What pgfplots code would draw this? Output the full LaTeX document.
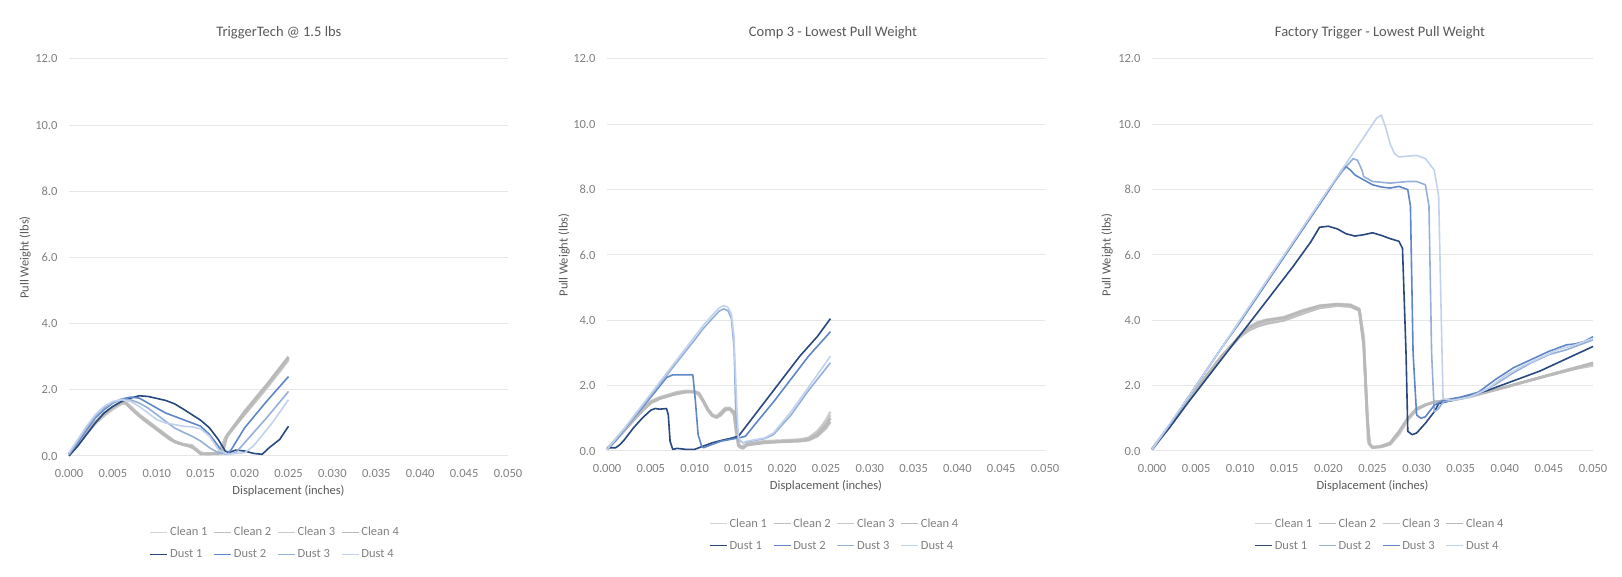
\documentclass[border=0pt]{standalone}
\usepackage{pgfplots}
\pgfplotsset{compat=1.18}
\usepackage{fontspec}
\setmainfont{Carlito}

\definecolor{titlegray}{HTML}{595959}
\definecolor{tickgray}{HTML}{808080}
\definecolor{gridgray}{HTML}{E6E6E6}
\definecolor{cleanA}{HTML}{D3D3D3}
\definecolor{cleanB}{HTML}{BFBFBF}
\definecolor{cleanC}{HTML}{C9C9C9}
\definecolor{cleanD}{HTML}{B9B9B9}
\definecolor{dustA}{HTML}{2A4880}
\definecolor{dustB}{HTML}{5F86C6}
\definecolor{dustC}{HTML}{95AFDB}
\definecolor{dustD}{HTML}{C2D2EC}

\pgfplotsset{
  trig/.style={
    scale only axis,
    xmin=0, xmax=0.05, ymin=0, ymax=12,
    xtick={0,0.005,0.01,0.015,0.02,0.025,0.03,0.035,0.04,0.045,0.05},
    ytick={0,2,4,6,8,10,12},
    scaled x ticks=false,
    /pgf/number format/assume math mode=true,
    xticklabel style={/pgf/number format/fixed, /pgf/number format/fixed zerofill, /pgf/number format/precision=3},
    yticklabel style={/pgf/number format/fixed, /pgf/number format/fixed zerofill, /pgf/number format/precision=1},
    ticklabel style={font=\fontsize{12.5}{14}\selectfont, text=tickgray},
    xticklabel style={/tikz/anchor=center, /tikz/yshift=-17pt},
    yticklabel style={/tikz/anchor=east, /tikz/xshift=-8pt},
    axis line style={draw=none},
    tick style={draw=none},
    ymajorgrids,
    major grid style={draw=gridgray, line width=1pt},
    clip=false,
    xlabel={Displacement (inches)},
    ylabel={Pull Weight (lbs)},
    label style={font=\fontsize{12.5}{14}\selectfont, text=titlegray},
    title style={font=\fontsize{14.5}{16}\selectfont, text=titlegray, anchor=center},
    legend columns=4,
    legend style={draw=none, fill=none, anchor=center,
      font=\fontsize{12.5}{14}\selectfont, text=tickgray,
      /tikz/every even column/.append style={column sep=4pt},
      /tikz/row sep=8.5pt},
    legend cell align=left,
    legend image code/.code={\draw[#1, line width=1.3pt] (0pt,0pt) -- (17pt,0pt);},
    every axis plot/.append style={line join=round},
  },
  cl/.style={color=#1, line width=2.6pt},
  du/.style={color=#1, line width=1.6pt},
}

\begin{document}
\begin{tikzpicture}
\useasboundingbox (0,0) rectangle (1622pt,577pt);

% ---------------- TriggerTech @ 1.5 lbs
\begin{axis}[trig,
  at={(69pt,121pt)}, anchor=south west, width=439pt, height=397pt,
  title={TriggerTech @ 1.5 lbs},
  title style={at={(axis description cs:0.478,1.05)}},
  xlabel style={at={(axis description cs:0.5,-0.089)}, anchor=center},
  ylabel style={at={(axis description cs:-0.1,0.5)}, anchor=center},
  legend style={at={(axis description cs:0.47,-0.220)}},
]
\addplot[cl=cleanA] coordinates {(0,0.05)(0.001,0.35)(0.002,0.7)(0.003,1.0)(0.004,1.25)(0.005,1.45)(0.006,1.6)(0.0065,1.6)(0.007,1.45)(0.008,1.2)(0.009,1.0)(0.010,0.8)(0.011,0.6)(0.012,0.42)(0.013,0.35)(0.014,0.3)(0.0148,0.12)(0.0155,0.05)(0.016,0.08)(0.017,0.05)(0.0178,0.5)(0.019,0.95)(0.020,1.3)(0.0215,1.8)(0.023,2.3)(0.025,2.95)};
\addplot[cl=cleanB] coordinates {(0,0.05)(0.001,0.38)(0.002,0.72)(0.003,1.03)(0.004,1.28)(0.005,1.48)(0.006,1.64)(0.0066,1.6)(0.0075,1.35)(0.0085,1.1)(0.0095,0.9)(0.0105,0.7)(0.0115,0.5)(0.0125,0.38)(0.0135,0.32)(0.0145,0.2)(0.015,0.08)(0.016,0.06)(0.0172,0.1)(0.0178,0.55)(0.020,1.35)(0.0225,2.15)(0.025,3.0)};
\addplot[cl=cleanC] coordinates {(0,0.05)(0.001,0.33)(0.002,0.68)(0.003,0.98)(0.004,1.22)(0.005,1.42)(0.006,1.58)(0.0064,1.62)(0.007,1.5)(0.008,1.25)(0.009,1.05)(0.010,0.85)(0.011,0.65)(0.012,0.45)(0.013,0.36)(0.014,0.32)(0.015,0.1)(0.016,0.05)(0.017,0.1)(0.018,0.6)(0.020,1.25)(0.0225,2.05)(0.025,2.9)};
\addplot[cl=cleanD] coordinates {(0,0.05)(0.001,0.36)(0.002,0.71)(0.003,1.02)(0.004,1.27)(0.005,1.47)(0.006,1.63)(0.0065,1.58)(0.0072,1.4)(0.008,1.22)(0.009,1.02)(0.010,0.82)(0.011,0.62)(0.012,0.44)(0.013,0.34)(0.014,0.28)(0.015,0.06)(0.016,0.07)(0.0175,0.08)(0.018,0.62)(0.020,1.3)(0.0225,2.12)(0.025,2.97)};
\addplot[du=dustA] coordinates {(0,0)(0.001,0.3)(0.002,0.65)(0.003,1.0)(0.004,1.3)(0.005,1.5)(0.006,1.65)(0.007,1.75)(0.008,1.82)(0.009,1.8)(0.010,1.74)(0.011,1.68)(0.012,1.58)(0.013,1.42)(0.014,1.25)(0.015,1.08)(0.016,0.85)(0.017,0.5)(0.0178,0.15)(0.0182,0.1)(0.019,0.18)(0.020,0.15)(0.021,0.08)(0.022,0.05)(0.0228,0.25)(0.024,0.5)(0.025,0.9)};
\addplot[du=dustB] coordinates {(0,0.05)(0.001,0.4)(0.002,0.8)(0.003,1.15)(0.004,1.4)(0.005,1.6)(0.006,1.72)(0.007,1.78)(0.008,1.75)(0.009,1.6)(0.010,1.45)(0.011,1.3)(0.012,1.2)(0.013,1.1)(0.014,1.0)(0.015,0.9)(0.016,0.65)(0.017,0.3)(0.0175,0.1)(0.018,0.05)(0.0185,0.2)(0.020,0.85)(0.0225,1.65)(0.025,2.4)};
\addplot[du=dustC] coordinates {(0,0.05)(0.001,0.45)(0.002,0.85)(0.003,1.2)(0.004,1.45)(0.005,1.62)(0.006,1.72)(0.007,1.7)(0.008,1.6)(0.009,1.45)(0.010,1.25)(0.011,1.05)(0.012,0.85)(0.013,0.72)(0.014,0.6)(0.015,0.45)(0.016,0.25)(0.017,0.1)(0.018,0.05)(0.019,0.1)(0.020,0.4)(0.0225,1.15)(0.025,1.95)};
\addplot[du=dustD] coordinates {(0,0.1)(0.001,0.5)(0.002,0.9)(0.003,1.25)(0.004,1.5)(0.005,1.65)(0.006,1.7)(0.007,1.65)(0.008,1.5)(0.009,1.3)(0.010,1.1)(0.011,1.0)(0.012,0.95)(0.013,0.9)(0.014,0.88)(0.015,0.82)(0.016,0.6)(0.017,0.2)(0.018,0.05)(0.020,0.1)(0.021,0.3)(0.023,0.95)(0.025,1.7)};
\legend{Clean 1,Clean 2,Clean 3,Clean 4,Dust 1,Dust 2,Dust 3,Dust 4}
\end{axis}

% ---------------- Comp 3 - Lowest Pull Weight
\begin{axis}[trig,
  at={(607pt,126pt)}, anchor=south west, width=438pt, height=392pt,
  title={Comp 3 - Lowest Pull Weight},
  title style={at={(axis description cs:0.516,1.051)}},
  xlabel style={at={(axis description cs:0.5,-0.09)}, anchor=center},
  ylabel style={at={(axis description cs:-0.098,0.5)}, anchor=center},
  legend style={at={(axis description cs:0.52,-0.213)}},
]
\addplot[cl=cleanA] coordinates {(0,0.05)(0.001,0.35)(0.002,0.65)(0.003,0.95)(0.004,1.25)(0.005,1.5)(0.006,1.62)(0.007,1.7)(0.008,1.78)(0.009,1.82)(0.010,1.82)(0.0105,1.78)(0.011,1.55)(0.0115,1.3)(0.012,1.12)(0.0125,1.05)(0.013,1.15)(0.0135,1.3)(0.014,1.32)(0.0145,1.2)(0.0148,0.7)(0.015,0.2)(0.0155,0.1)(0.016,0.2)(0.018,0.28)(0.020,0.3)(0.022,0.33)(0.023,0.38)(0.024,0.55)(0.025,0.95)(0.0255,1.2)};
\addplot[cl=cleanB] coordinates {(0,0.05)(0.001,0.33)(0.002,0.63)(0.003,0.93)(0.004,1.22)(0.005,1.47)(0.006,1.6)(0.007,1.68)(0.008,1.75)(0.009,1.8)(0.010,1.8)(0.0105,1.72)(0.011,1.5)(0.0115,1.25)(0.012,1.08)(0.0125,1.02)(0.013,1.1)(0.0135,1.25)(0.014,1.28)(0.0145,1.15)(0.015,0.15)(0.0155,0.08)(0.016,0.18)(0.018,0.25)(0.020,0.28)(0.022,0.3)(0.023,0.33)(0.024,0.45)(0.025,0.7)(0.0255,0.9)};
\addplot[cl=cleanC] coordinates {(0,0.05)(0.001,0.36)(0.002,0.67)(0.003,0.97)(0.004,1.27)(0.005,1.52)(0.006,1.64)(0.007,1.72)(0.008,1.8)(0.009,1.84)(0.010,1.83)(0.0105,1.75)(0.011,1.52)(0.0115,1.28)(0.012,1.1)(0.0125,1.06)(0.013,1.18)(0.0135,1.32)(0.014,1.3)(0.0145,1.1)(0.0148,0.4)(0.0152,0.1)(0.016,0.22)(0.018,0.3)(0.020,0.32)(0.022,0.35)(0.023,0.4)(0.024,0.6)(0.025,0.9)(0.0255,1.1)};
\addplot[cl=cleanD] coordinates {(0,0.05)(0.001,0.34)(0.002,0.64)(0.003,0.94)(0.004,1.24)(0.005,1.49)(0.006,1.61)(0.007,1.69)(0.008,1.77)(0.009,1.81)(0.010,1.81)(0.0105,1.76)(0.011,1.53)(0.0115,1.27)(0.012,1.1)(0.0125,1.04)(0.013,1.13)(0.0135,1.28)(0.014,1.3)(0.0145,1.18)(0.015,0.18)(0.0155,0.09)(0.016,0.2)(0.018,0.27)(0.020,0.29)(0.022,0.32)(0.023,0.36)(0.024,0.5)(0.025,0.8)(0.0255,1.0)};
\addplot[du=dustA] coordinates {(0,0.1)(0.001,0.1)(0.0015,0.2)(0.002,0.35)(0.003,0.7)(0.004,1.0)(0.005,1.25)(0.0055,1.3)(0.006,1.28)(0.0068,1.3)(0.007,1.1)(0.0072,0.3)(0.0075,0.05)(0.008,0.08)(0.009,0.05)(0.010,0.05)(0.011,0.15)(0.012,0.25)(0.013,0.32)(0.014,0.38)(0.015,0.45)(0.016,0.8)(0.018,1.5)(0.020,2.2)(0.022,2.9)(0.024,3.5)(0.0255,4.05)};
\addplot[du=dustB] coordinates {(0,0.05)(0.001,0.33)(0.002,0.66)(0.003,1.0)(0.004,1.32)(0.005,1.65)(0.006,1.98)(0.0068,2.25)(0.0075,2.33)(0.0098,2.33)(0.0101,1.5)(0.0104,0.5)(0.0108,0.15)(0.011,0.1)(0.012,0.2)(0.013,0.3)(0.014,0.35)(0.015,0.4)(0.0158,0.45)(0.017,0.85)(0.019,1.5)(0.021,2.2)(0.023,2.9)(0.0255,3.65)};
\addplot[du=dustC] coordinates {(0,0.05)(0.002,0.68)(0.004,1.36)(0.006,2.04)(0.008,2.72)(0.010,3.4)(0.011,3.75)(0.012,4.05)(0.0128,4.28)(0.0133,4.35)(0.0138,4.3)(0.0142,4.05)(0.0145,3.2)(0.0147,1.2)(0.015,0.35)(0.0155,0.25)(0.016,0.28)(0.017,0.33)(0.018,0.38)(0.019,0.5)(0.021,1.1)(0.023,1.85)(0.0255,2.7)};
\addplot[du=dustD] coordinates {(0,0.05)(0.002,0.7)(0.004,1.4)(0.006,2.1)(0.008,2.8)(0.010,3.5)(0.011,3.85)(0.012,4.15)(0.0128,4.38)(0.0133,4.45)(0.0138,4.4)(0.0142,4.2)(0.0145,3.5)(0.0148,1.5)(0.015,0.4)(0.0155,0.25)(0.016,0.3)(0.017,0.35)(0.018,0.4)(0.019,0.55)(0.021,1.2)(0.023,1.95)(0.0255,2.9)};
\legend{Clean 1,Clean 2,Clean 3,Clean 4,Dust 1,Dust 2,Dust 3,Dust 4}
\end{axis}

% ---------------- Factory Trigger - Lowest Pull Weight
\begin{axis}[trig,
  at={(1152pt,126pt)}, anchor=south west, width=441pt, height=392pt,
  title={Factory Trigger - Lowest Pull Weight},
  title style={at={(axis description cs:0.517,1.051)}},
  xlabel style={at={(axis description cs:0.5,-0.09)}, anchor=center},
  ylabel style={at={(axis description cs:-0.102,0.5)}, anchor=center},
  legend style={at={(axis description cs:0.517,-0.213)}},
]
\addplot[cl=cleanA] coordinates {(0,0.05)(0.002,0.75)(0.004,1.5)(0.006,2.2)(0.008,2.9)(0.010,3.55)(0.011,3.8)(0.012,3.95)(0.013,4.02)(0.015,4.1)(0.017,4.3)(0.019,4.45)(0.021,4.5)(0.0225,4.48)(0.0235,4.35)(0.024,3.5)(0.0243,1.5)(0.0245,0.3)(0.025,0.1)(0.026,0.12)(0.027,0.2)(0.028,0.5)(0.029,0.95)(0.030,1.25)(0.031,1.4)(0.032,1.5)(0.034,1.55)(0.036,1.65)(0.038,1.8)(0.040,1.95)(0.042,2.1)(0.044,2.25)(0.046,2.4)(0.048,2.55)(0.050,2.65)};
\addplot[cl=cleanB] coordinates {(0,0.05)(0.002,0.78)(0.004,1.52)(0.006,2.25)(0.008,2.95)(0.010,3.5)(0.011,3.7)(0.012,3.82)(0.013,3.9)(0.015,4.0)(0.017,4.2)(0.019,4.38)(0.021,4.45)(0.0225,4.42)(0.0235,4.3)(0.024,3.2)(0.0244,1.0)(0.0247,0.2)(0.025,0.1)(0.026,0.15)(0.027,0.25)(0.028,0.6)(0.029,1.0)(0.030,1.3)(0.031,1.42)(0.032,1.5)(0.034,1.57)(0.036,1.68)(0.038,1.82)(0.040,1.95)(0.042,2.1)(0.044,2.25)(0.046,2.4)(0.048,2.55)(0.050,2.7)};
\addplot[cl=cleanC] coordinates {(0,0.05)(0.002,0.76)(0.004,1.5)(0.006,2.22)(0.008,2.92)(0.010,3.52)(0.011,3.75)(0.012,3.9)(0.013,3.98)(0.015,4.06)(0.017,4.25)(0.019,4.42)(0.021,4.48)(0.0225,4.45)(0.0235,4.32)(0.024,3.4)(0.0244,1.2)(0.0246,0.25)(0.025,0.12)(0.026,0.13)(0.027,0.22)(0.028,0.55)(0.029,0.98)(0.030,1.28)(0.031,1.41)(0.032,1.5)(0.034,1.56)(0.036,1.66)(0.038,1.81)(0.040,1.95)(0.042,2.1)(0.044,2.24)(0.046,2.38)(0.048,2.52)(0.050,2.62)};
\addplot[cl=cleanD] coordinates {(0,0.05)(0.002,0.77)(0.004,1.51)(0.006,2.23)(0.008,2.93)(0.010,3.53)(0.011,3.77)(0.012,3.92)(0.013,4.0)(0.015,4.08)(0.017,4.28)(0.019,4.44)(0.021,4.49)(0.0225,4.46)(0.0235,4.33)(0.024,3.3)(0.0244,1.1)(0.0246,0.22)(0.025,0.11)(0.026,0.14)(0.027,0.23)(0.028,0.58)(0.029,0.99)(0.030,1.29)(0.031,1.41)(0.032,1.5)(0.034,1.56)(0.036,1.67)(0.038,1.81)(0.040,1.95)(0.042,2.1)(0.044,2.25)(0.046,2.39)(0.048,2.53)(0.050,2.68)};
\addplot[du=dustA] coordinates {(0,0.05)(0.002,0.72)(0.004,1.45)(0.006,2.15)(0.008,2.85)(0.010,3.55)(0.012,4.25)(0.014,4.95)(0.016,5.65)(0.018,6.4)(0.019,6.85)(0.020,6.88)(0.021,6.8)(0.022,6.65)(0.023,6.58)(0.024,6.62)(0.025,6.68)(0.026,6.6)(0.027,6.5)(0.028,6.42)(0.0284,6.2)(0.0288,3.0)(0.029,0.6)(0.0295,0.5)(0.030,0.55)(0.031,0.85)(0.032,1.2)(0.0325,1.45)(0.034,1.55)(0.036,1.7)(0.038,1.85)(0.040,2.05)(0.042,2.25)(0.044,2.45)(0.046,2.7)(0.048,2.95)(0.050,3.2)};
\addplot[du=dustC] coordinates {(0,0.05)(0.002,0.8)(0.004,1.6)(0.006,2.4)(0.008,3.2)(0.010,4.0)(0.012,4.8)(0.014,5.6)(0.016,6.4)(0.018,7.2)(0.020,8.0)(0.022,8.7)(0.0228,8.95)(0.0233,8.9)(0.0238,8.6)(0.024,8.4)(0.025,8.25)(0.027,8.2)(0.029,8.25)(0.030,8.25)(0.031,8.15)(0.0314,7.5)(0.0317,3.0)(0.032,1.2)(0.0325,1.3)(0.033,1.5)(0.035,1.6)(0.037,1.75)(0.039,2.05)(0.041,2.4)(0.043,2.7)(0.045,2.95)(0.047,3.1)(0.049,3.3)(0.050,3.4)};
\addplot[du=dustB] coordinates {(0,0.05)(0.002,0.8)(0.004,1.6)(0.006,2.4)(0.008,3.2)(0.010,3.95)(0.012,4.75)(0.014,5.55)(0.016,6.35)(0.018,7.15)(0.020,7.95)(0.0215,8.6)(0.022,8.7)(0.0225,8.6)(0.023,8.45)(0.024,8.3)(0.025,8.15)(0.026,8.08)(0.027,8.05)(0.028,8.1)(0.029,8.0)(0.0293,7.5)(0.0296,3.0)(0.030,1.1)(0.0305,1.0)(0.031,1.05)(0.032,1.4)(0.033,1.55)(0.035,1.65)(0.037,1.8)(0.039,2.2)(0.041,2.55)(0.043,2.8)(0.045,3.05)(0.047,3.25)(0.048,3.28)(0.049,3.35)(0.050,3.5)};
\addplot[du=dustD] coordinates {(0,0.05)(0.004,1.6)(0.008,3.2)(0.012,4.8)(0.016,6.4)(0.020,8.0)(0.022,8.8)(0.024,9.6)(0.0255,10.2)(0.026,10.28)(0.0265,9.9)(0.027,9.4)(0.0275,9.1)(0.028,9.0)(0.030,9.05)(0.031,8.95)(0.032,8.6)(0.0325,7.8)(0.0328,4.0)(0.033,1.6)(0.034,1.55)(0.036,1.65)(0.038,1.9)(0.040,2.3)(0.042,2.6)(0.044,2.85)(0.046,3.1)(0.048,3.25)(0.050,3.45)};
\legend{Clean 1,Clean 2,Clean 3,Clean 4,Dust 1,Dust 2,Dust 3,Dust 4}
\end{axis}
\end{tikzpicture}
\end{document}
